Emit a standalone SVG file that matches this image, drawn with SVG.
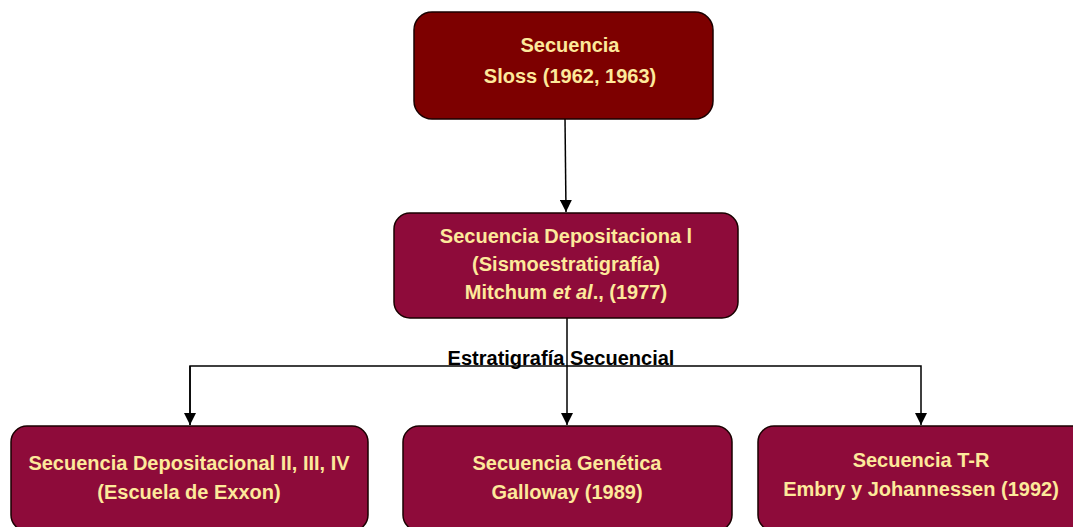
<svg xmlns="http://www.w3.org/2000/svg" width="1073" height="527" viewBox="0 0 1073 527">
<defs>
<style>
.box{stroke:#1a0000;stroke-width:1.5}
.top{fill:#7d0000}
.mid{fill:#8e0b3a}
.t{font-family:"Liberation Sans",Arial,sans-serif;font-weight:bold;font-size:20px;fill:#fde99b;text-anchor:middle}
.lbl{font-family:"Liberation Sans",Arial,sans-serif;font-weight:bold;font-size:20px;fill:#000;text-anchor:middle}
.c{fill:none;stroke:#000;stroke-width:1.5}
</style>
<marker id="arr" markerWidth="12" markerHeight="12" viewBox="0 0 12 12" refX="12" refY="6" orient="auto" markerUnits="userSpaceOnUse">
<path d="M0,0 L12,6 L0,12 Z" fill="#000"/>
</marker>
</defs>
<rect width="1073" height="527" fill="#fff"/>
<g id="connectors">
<line class="c" x1="565" y1="118" x2="566" y2="212" marker-end="url(#arr)"/>
<line class="c" x1="567" y1="318" x2="567" y2="425" marker-end="url(#arr)"/>
<polyline class="c" points="190,425 190,366 921,366 921,425" marker-end="url(#arr)"/>
<line class="c" x1="190" y1="366" x2="190" y2="425" marker-end="url(#arr)"/>
<text class="lbl" x="561" y="365">Estratigrafía Secuencial</text>
</g>
<g id="node-sloss">
<rect class="box top" x="414" y="12" width="299" height="107" rx="18"/>
<text class="t" x="570" y="52">Secuencia</text>
<text class="t" x="570" y="83">Sloss (1962, 1963)</text>
</g>
<g id="node-mitchum">
<rect class="box mid" x="394" y="213" width="344" height="105" rx="16"/>
<text class="t" x="566" y="243">Secuencia Depositaciona l</text>
<text class="t" x="566" y="271">(Sismoestratigrafía)</text>
<text class="t" x="566" y="299">Mitchum <tspan font-style="italic">et al</tspan>., (1977)</text>
</g>
<g id="node-exxon">
<rect class="box mid" x="11" y="426" width="357" height="105" rx="16"/>
<text class="t" x="189" y="470">Secuencia Depositacional II, III, IV</text>
<text class="t" x="189" y="499">(Escuela de Exxon)</text>
</g>
<g id="node-galloway">
<rect class="box mid" x="403" y="426" width="329" height="105" rx="16"/>
<text class="t" x="567" y="470">Secuencia Genética</text>
<text class="t" x="567" y="499">Galloway (1989)</text>
</g>
<g id="node-embry">
<rect class="box mid" x="758" y="426" width="330" height="105" rx="16"/>
<text class="t" x="921" y="467">Secuencia T-R</text>
<text class="t" x="921" y="496">Embry y Johannessen (1992)</text>
</g>
</svg>
